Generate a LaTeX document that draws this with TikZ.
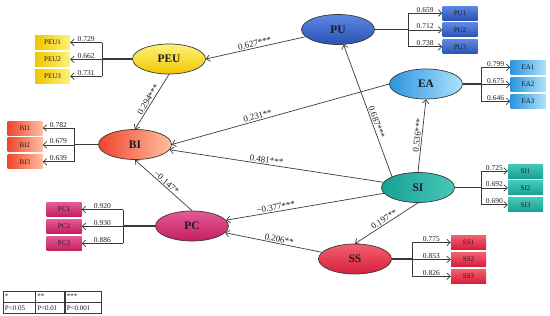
\documentclass[tikz,border=0pt]{standalone}
\usepackage{fontspec}
\setmainfont{Liberation Serif}
\usetikzlibrary{arrows.meta,positioning,calc,shapes.geometric}
\definecolor{Ink}{HTML}{1C1C24}
\definecolor{Wire}{HTML}{3A3A3A}
\definecolor{PeuTop}{HTML}{FFF27A}
\definecolor{PeuBot}{HTML}{EEC600}
\definecolor{BiDeep}{HTML}{F0452C}
\definecolor{BiPale}{HTML}{FFBFA0}
\definecolor{PcTop}{HTML}{E45A94}
\definecolor{PcBot}{HTML}{C41E60}
\definecolor{PuTop}{HTML}{5C88E2}
\definecolor{PuBot}{HTML}{2A52B2}
\definecolor{EaDeep}{HTML}{2C94E0}
\definecolor{EaPale}{HTML}{ACE2FB}
\definecolor{SiDeep}{HTML}{16A293}
\definecolor{SiPale}{HTML}{48C6BA}
\definecolor{SsTop}{HTML}{F2606E}
\definecolor{SsBot}{HTML}{D61E3C}
\tikzset{
  latent/.style={ellipse,draw=Wire,line width=0.7pt,minimum width=73pt,minimum height=30pt,inner sep=0pt,font=\fontsize{11.5}{12}\selectfont\bfseries,text=Ink},
  item/.style={rectangle,minimum width=35pt,minimum height=14pt,inner sep=0pt,font=\fontsize{7}{8}\selectfont,text=Ink},
  peuitem/.style={item,left color=PeuBot,right color=PeuTop},
  biitem/.style={item,left color=BiDeep,right color=BiPale},
  pcitem/.style={item,top color=PcTop,bottom color=PcBot},
  puitem/.style={item,top color=PuTop,bottom color=PuBot},
  eaitem/.style={item,left color=EaDeep,right color=EaPale},
  siitem/.style={item,top color=SiPale,bottom color=SiDeep},
  ssitem/.style={item,top color=SsTop,bottom color=SsBot},
  arr/.style={-{Straight Barb[length=3.5pt,width=6.5pt]},draw=Wire,line width=0.7pt},
  wire/.style={draw=Wire,line width=0.7pt},
  stem/.style={draw=Wire,line width=1.4pt},
  load/.style={above=-0.5pt,font=\fontsize{7.5}{8}\selectfont,inner sep=1pt,text=Ink},
  coef/.style={sloped,above=-0.5pt,font=\fontsize{9}{10}\selectfont,inner sep=1.5pt,text=Ink},
  cell/.style={draw=Wire,line width=0.4pt,minimum height=11pt,inner xsep=2pt,inner ysep=0pt,text width=#1,align=left,font=\fontsize{7}{8}\selectfont,text=Ink}
}
\begin{document}
\begin{tikzpicture}[x=1pt,y=-1pt]
  \useasboundingbox (0,0) rectangle (550,316);
  % latent variables
  \node[latent,top color=PeuTop,bottom color=PeuBot] (peu) at (169,59) {PEU};
  \node[latent,left color=BiDeep,right color=BiPale] (bi) at (135,144.5) {BI};
  \node[latent,top color=PcTop,bottom color=PcBot] (pc) at (192,226) {PC};
  \node[latent,top color=PuTop,bottom color=PuBot] (pu) at (338,29.5) {PU};
  \node[latent,left color=EaDeep,right color=EaPale] (ea) at (426,84) {EA};
  \node[latent,left color=SiDeep,right color=SiPale] (si) at (418,187.5) {SI};
  \node[latent,top color=SsTop,bottom color=SsBot] (ss) at (355,259) {SS};
  % indicators
  \node[peuitem] (peu1) at (52.5,42.5) {PEU1};
  \node[peuitem,below=2.5pt of peu1] (peu2) {PEU2};
  \node[peuitem,below=2.5pt of peu2] (peu3) {PEU3};
  \node[biitem] (bi1) at (25,128) {BI1};
  \node[biitem,below=2.5pt of bi1] (bi2) {BI2};
  \node[biitem,below=2.5pt of bi2] (bi3) {BI3};
  \node[pcitem] (pc1) at (64,209.5) {PC1};
  \node[pcitem,below=2.5pt of pc1] (pc2) {PC2};
  \node[pcitem,below=2.5pt of pc2] (pc3) {PC3};
  \node[puitem] (pu1) at (460,13) {PU1};
  \node[puitem,below=2.5pt of pu1] (pu2) {PU2};
  \node[puitem,below=2.5pt of pu2] (pu3) {PU3};
  \node[eaitem] (ea1) at (528,67.5) {EA1};
  \node[eaitem,below=2.5pt of ea1] (ea2) {EA2};
  \node[eaitem,below=2.5pt of ea2] (ea3) {EA3};
  \node[siitem] (si1) at (525.5,171) {SI1};
  \node[siitem,below=2.5pt of si1] (si2) {SI2};
  \node[siitem,below=2.5pt of si2] (si3) {SI3};
  \node[ssitem] (ss1) at (468.5,242.5) {SS1};
  \node[ssitem,below=2.5pt of ss1] (ss2) {SS2};
  \node[ssitem,below=2.5pt of ss2] (ss3) {SS3};
  % bracket junctions
  \coordinate (jpeu) at (102,59);
  \coordinate (jbi) at (74,144.5);
  \coordinate (jpc) at (123,226);
  \coordinate (jpu) at (408,29.5);
  \coordinate (jea) at (481,84);
  \coordinate (jsi) at (481,187.5);
  \coordinate (jss) at (412,259);
  % outer loadings
  \draw[stem] (peu.west) -- (jpeu);
  \draw[wire] (jpeu |- peu1) -- (jpeu |- peu3);
  \draw[arr] (jpeu |- peu1) -- node[load]{0.729} (peu1);
  \draw[arr] (jpeu |- peu2) -- node[load]{0.662} (peu2);
  \draw[arr] (jpeu |- peu3) -- node[load]{0.731} (peu3);
  \draw[stem] (bi.west) -- (jbi);
  \draw[wire] (jbi |- bi1) -- (jbi |- bi3);
  \draw[arr] (jbi |- bi1) -- node[load]{0.782} (bi1);
  \draw[arr] (jbi |- bi2) -- node[load]{0.679} (bi2);
  \draw[arr] (jbi |- bi3) -- node[load]{0.639} (bi3);
  \draw[stem] (pc.west) -- (jpc);
  \draw[wire] (jpc |- pc1) -- (jpc |- pc3);
  \draw[arr] (jpc |- pc1) -- node[load]{0.920} (pc1);
  \draw[arr] (jpc |- pc2) -- node[load]{0.930} (pc2);
  \draw[arr] (jpc |- pc3) -- node[load]{0.886} (pc3);
  \draw[stem] (pu.east) -- (jpu);
  \draw[wire] (jpu |- pu1) -- (jpu |- pu3);
  \draw[arr] (jpu |- pu1) -- node[load]{0.659} (pu1);
  \draw[arr] (jpu |- pu2) -- node[load]{0.712} (pu2);
  \draw[arr] (jpu |- pu3) -- node[load]{0.738} (pu3);
  \draw[stem] (ea.east) -- (jea);
  \draw[wire] (jea |- ea1) -- (jea |- ea3);
  \draw[arr] (jea |- ea1) -- node[load]{0.799} (ea1);
  \draw[arr] (jea |- ea2) -- node[load]{0.675} (ea2);
  \draw[arr] (jea |- ea3) -- node[load]{0.646} (ea3);
  \draw[stem] (si.east) -- (jsi);
  \draw[wire] (jsi |- si1) -- (jsi |- si3);
  \draw[arr] (jsi |- si1) -- node[load]{0.725} (si1);
  \draw[arr] (jsi |- si2) -- node[load]{0.692} (si2);
  \draw[arr] (jsi |- si3) -- node[load]{0.690} (si3);
  \draw[stem] (ss.east) -- (jss);
  \draw[wire] (jss |- ss1) -- (jss |- ss3);
  \draw[arr] (jss |- ss1) -- node[load]{0.775} (ss1);
  \draw[arr] (jss |- ss2) -- node[load]{0.853} (ss2);
  \draw[arr] (jss |- ss3) -- node[load]{0.826} (ss3);
  % structural paths
  \draw[arr] (pu) -- node[coef,pos=0.5]{0.627***} (peu.east);
  \draw[arr] (peu.south) -- node[coef]{0.294***} (bi.north);
  \draw[arr] (ea.west) -- node[coef,pos=0.6]{0.231**} (bi.east);
  \draw[arr] (si) -- node[coef,pos=0.55]{0.481***} (bi);
  \draw[arr] (si.north west) -- node[coef,pos=0.4]{0.687***} (pu);
  \draw[arr] (si.north) -- node[coef]{0.536***} (ea.south);
  \draw[arr] (si) -- node[coef,pos=0.68]{−0.377***} (pc);
  \draw[arr] (si.south) -- node[coef]{0.197**} (ss.north);
  \draw[arr] (ss) -- node[coef,pos=0.45]{0.206**} (pc);
  \draw[arr] (pc.north) -- node[coef]{−0.147*} (bi.south);
  % legend
  \node[cell=28pt] (star1) at (19,296.5) {*};
  \node[cell=25pt,right=0pt of star1] (star2) {**};
  \node[cell=32pt,right=0pt of star2] (star3) {***};
  \node[cell=28pt,below=0pt of star1] (sig1) {P<0.05};
  \node[cell=25pt,below=0pt of star2] (sig2) {P<0.01};
  \node[cell=32pt,below=0pt of star3] (sig3) {P<0.001};
\end{tikzpicture}
\end{document}
